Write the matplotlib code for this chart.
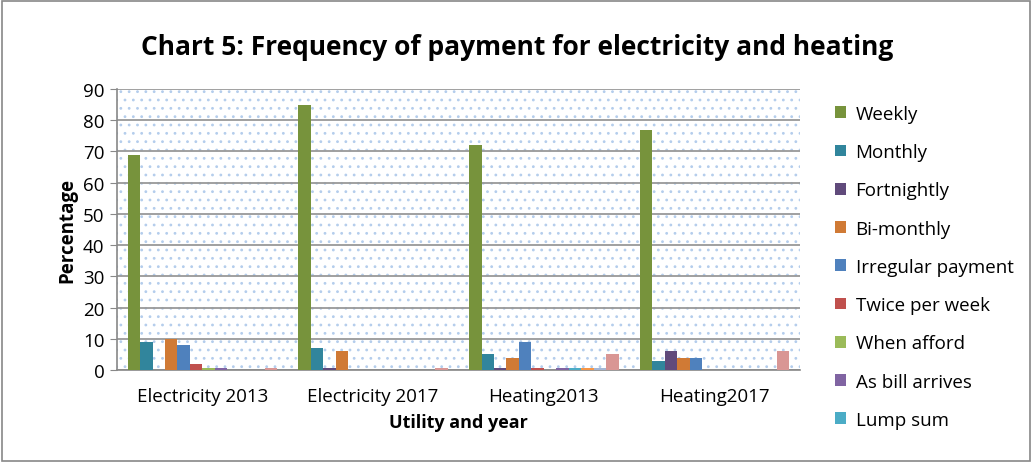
import numpy as np
import matplotlib.pyplot as plt
from matplotlib.patches import Rectangle, Patch

# chart data
categories = ['Electricity 2013', 'Electricity 2017', 'Heating2013', 'Heating2017']
series = ['Weekly', 'Monthly', 'Fortnightly', 'Bi-monthly', 'Irregular payment',
          'Twice per week', 'When afford', 'As bill arrives', 'Lump sum',
          'Other', 'Direct debit', 'Don\'t know']
values = [
    [69, 85, 72, 77],   # Weekly
    [9, 7, 5, 3],       # Monthly
    [0, 0.8, 0.8, 6],   # Fortnightly
    [10, 6, 4, 4],      # Bi-monthly
    [8, 0, 9, 4],       # Irregular payment
    [2, 0, 0.8, 0],     # Twice per week
    [0.8, 0, 0, 0],     # When afford
    [0.8, 0, 0.8, 0],   # As bill arrives
    [0, 0, 0.8, 0],     # Lump sum
    [0, 0, 0.8, 0],
    [0, 0, 0.8, 0],
    [0.8, 0.8, 5, 6],
]
colors = ['#77933C', '#31859C', '#604A7B', '#D07A35', '#4F81BD', '#C0504D',
          '#9BBB59', '#8064A2', '#4BACC6', '#F79646', '#A5B6D4', '#D99694']

plt.rcParams['font.family'] = ['Open Sans', 'DejaVu Sans']
plt.rcParams['hatch.linewidth'] = 0.8

fig = plt.figure(figsize=(10.34, 4.64), dpi=100)
ax = fig.add_axes([117/1034, 1 - 371/464, 683/1034, 281/464])

# outer chart frame
fig.patches.append(Rectangle((0.002, 0.004), 0.994, 0.992, transform=fig.transFigure,
                             fill=False, edgecolor='#888888', lw=1.2))

# dotted plot area
ax.add_patch(Rectangle((0, 0), 1, 1, transform=ax.transAxes, facecolor='white',
                       edgecolor='#B4CDEC', hatch='..', lw=0, zorder=0))

x = np.arange(len(categories))
w = 0.073
n = len(series)
for i, (name, vals) in enumerate(zip(series, values)):
    ax.bar(x + (i - (n - 1) / 2) * w, vals, width=w, color=colors[i],
           linewidth=0, zorder=3, label=name)

ax.set_xlim(-0.5, 3.5)
ax.set_ylim(0, 90)
ax.set_yticks(range(0, 91, 10))
ax.set_xticks(x)
ax.set_xticklabels(categories)
ax.tick_params(axis='x', length=0, labelsize=13.5, pad=12)
ax.tick_params(axis='y', length=5, color='#888888', labelsize=13.5, pad=4)
ax.grid(axis='y', color='#999999', lw=1.3, zorder=1)
for s in ['top', 'right']:
    ax.spines[s].set_visible(False)
for s in ['left', 'bottom']:
    ax.spines[s].set_color('#888888')
    ax.spines[s].set_linewidth(1.2)

ax.set_ylabel('Percentage', fontsize=13.5, fontweight='bold', labelpad=4)
ax.set_xlabel('Utility and year', fontsize=13, fontweight='bold', labelpad=6)
fig.text(0.5, 0.897, 'Chart 5: Frequency of payment for electricity and heating',
         ha='center', va='center', fontsize=19, fontweight='bold')

# legend only shows the first nine entries (rest is cut off)
handles = [Patch(facecolor=colors[i], label=series[i]) for i in range(9)]
fig.legend(handles=handles, loc='upper left', bbox_to_anchor=(818/1034, 1 - 89/464),
           frameon=False, fontsize=13.5, handlelength=0.6, handleheight=0.6,
           handletextpad=0.5, labelspacing=1.08)

fig.savefig('out.png', dpi=100)
